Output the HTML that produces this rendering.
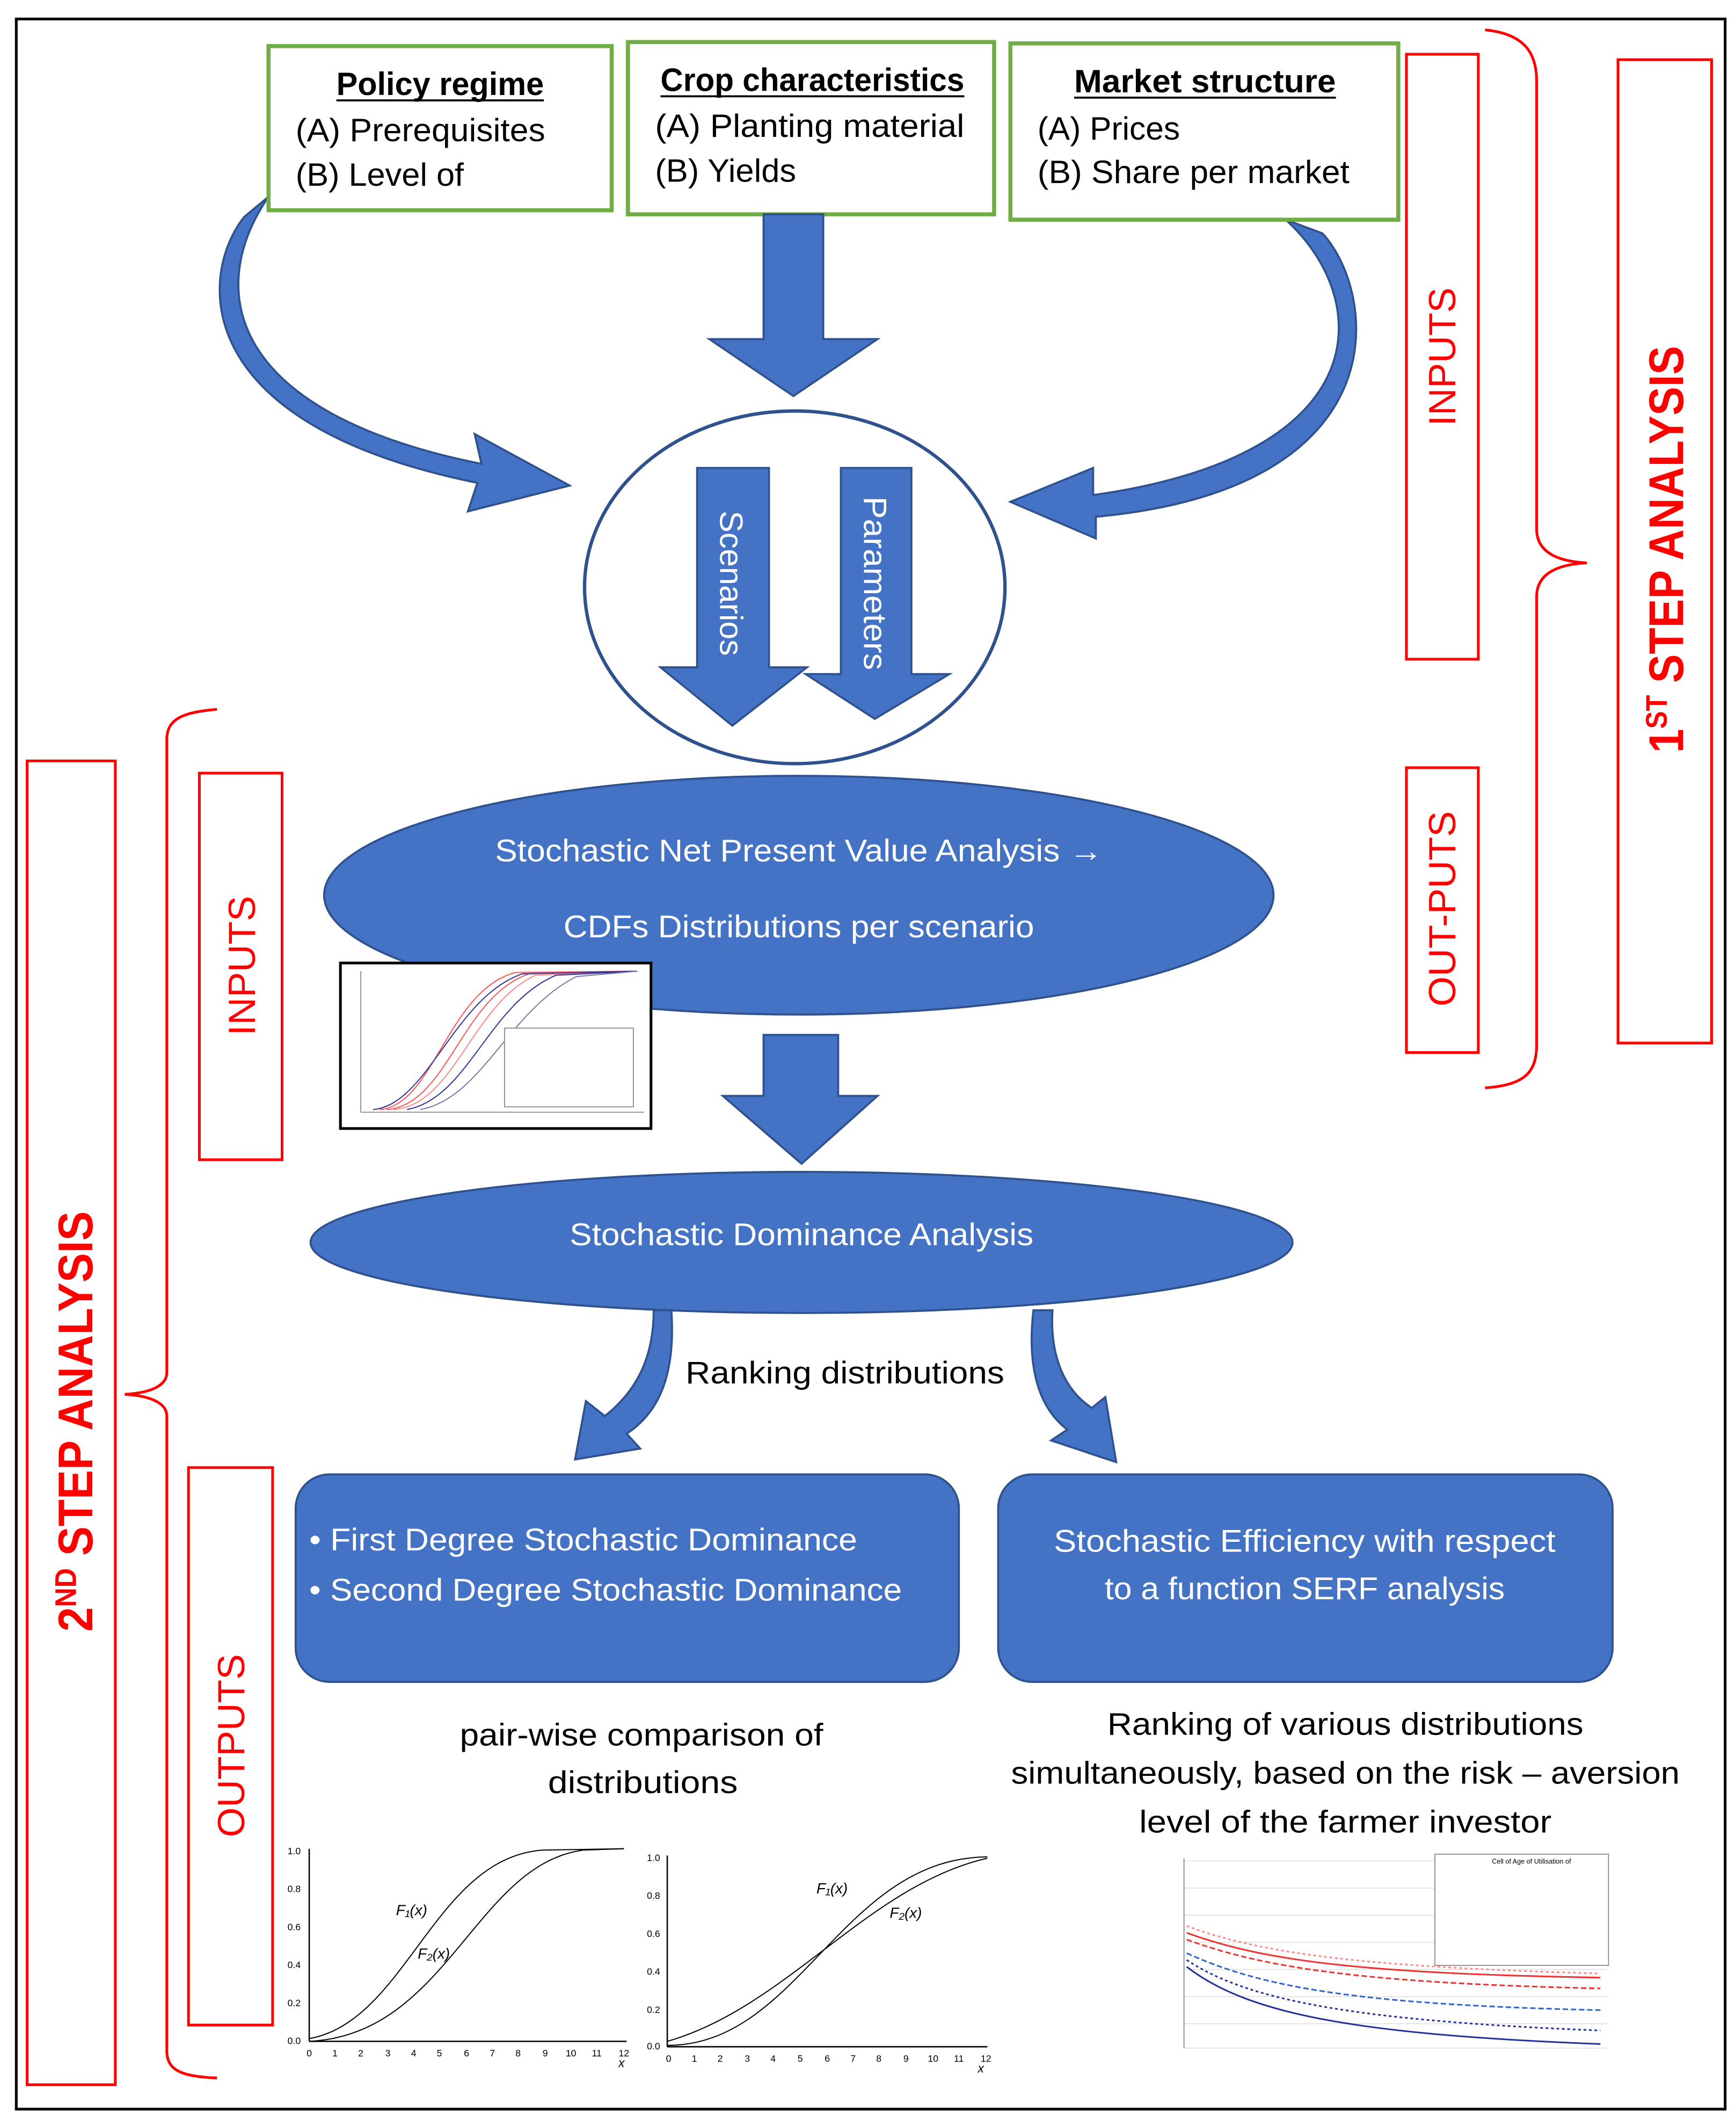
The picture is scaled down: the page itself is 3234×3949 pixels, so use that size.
<!DOCTYPE html>
<html><head><meta charset="utf-8"><style>
html,body{margin:0;padding:0;background:#fff;}
svg{display:block;}
text{font-family:"Liberation Sans",sans-serif;}
</style></head><body>
<svg xmlns="http://www.w3.org/2000/svg" width="3234" height="3949" viewBox="0 0 1280 1563">
<rect x="0" y="0" width="1280" height="1563" fill="#fff"/>
<rect x="12" y="14" width="1260" height="1541" fill="none" stroke="#000" stroke-width="2"/>

<path d="M198,145 C150,215 170,305 355,342 L350,320 L420,358 L345,377 L352,356 C135,312 148,200 180,160 Z" fill="#4472c4" stroke="#2f528f" stroke-width="1.5"/>
<path d="M948,162 C1012,220 1018,335 806,365 L806,345 L745,370 L808,397 L808,381 C1035,360 1015,215 975,172 Z" fill="#4472c4" stroke="#2f528f" stroke-width="1.5"/>

<g fill="#fff" stroke="#70ad47" stroke-width="3">
<rect x="198" y="34" width="253" height="121"/>
<rect x="463" y="31" width="270" height="127"/>
<rect x="745" y="32" width="286" height="130"/>
</g>
<g font-size="24" fill="#000">
<text x="248" y="70" font-weight="bold" textLength="153" lengthAdjust="spacingAndGlyphs">Policy regime</text>
<line x1="248" y1="74" x2="401" y2="74" stroke="#000" stroke-width="1.5"/>
<text x="218" y="104" textLength="184" lengthAdjust="spacingAndGlyphs">(A) Prerequisites</text>
<text x="218" y="137" textLength="124" lengthAdjust="spacingAndGlyphs">(B) Level of</text>
<text x="487" y="67" font-weight="bold" textLength="224" lengthAdjust="spacingAndGlyphs">Crop characteristics</text>
<line x1="487" y1="71" x2="711" y2="71" stroke="#000" stroke-width="1.5"/>
<text x="483" y="101" textLength="228" lengthAdjust="spacingAndGlyphs">(A) Planting material</text>
<text x="483" y="134" textLength="104" lengthAdjust="spacingAndGlyphs">(B) Yields</text>
<text x="792" y="68" font-weight="bold" textLength="193" lengthAdjust="spacingAndGlyphs">Market structure</text>
<line x1="792" y1="72" x2="985" y2="72" stroke="#000" stroke-width="1.5"/>
<text x="765" y="103" textLength="105" lengthAdjust="spacingAndGlyphs">(A) Prices</text>
<text x="765" y="135" textLength="230" lengthAdjust="spacingAndGlyphs">(B) Share per market</text>
</g>

<polygon points="563,158 607,158 607,250 647,250 585,292 523,250 563,250" fill="#4472c4" stroke="#2f528f" stroke-width="1.5"/>

<ellipse cx="586" cy="433" rx="155" ry="130" fill="#fff" stroke="#2f528f" stroke-width="2.5"/>
<polygon points="514,345 567,345 567,492 595,492 540,535 487,492 514,492" fill="#4472c4" stroke="#2f528f" stroke-width="1.5"/>
<polygon points="620,345 672,345 672,497 700,497 645,530 594,497 620,497" fill="#4472c4" stroke="#2f528f" stroke-width="1.5"/>
<text transform="translate(531,430) rotate(90)" text-anchor="middle" font-size="24" fill="#fff" textLength="107" lengthAdjust="spacingAndGlyphs">Scenarios</text>
<text transform="translate(637,430) rotate(90)" text-anchor="middle" font-size="24" fill="#fff" textLength="128" lengthAdjust="spacingAndGlyphs">Parameters</text>

<g fill="none" stroke="#ff0000" stroke-width="2">
<rect x="1037" y="40" width="53" height="446"/>
<rect x="1037" y="566" width="53" height="210"/>
<rect x="1193" y="44" width="69" height="725"/>
<path d="M1095,22 C1125,25 1133,40 1133,60 L1133,390 C1133,408 1150,414 1170,415 C1150,416 1133,422 1133,440 L1133,770 C1133,790 1125,800 1095,802"/>
<rect x="20" y="561" width="65" height="976"/>
<rect x="147" y="570" width="61" height="285"/>
<rect x="139" y="1082" width="62" height="411"/>
<path d="M160,523 C135,525 123,530 123,545 L123,1012 C123,1022 110,1027 92,1028 C110,1029 123,1034 123,1044 L123,1512 C123,1527 135,1531 160,1532"/>
</g>
<g fill="#ff0000" font-size="28" text-anchor="middle">
<text transform="translate(1073,263) rotate(-90)" textLength="102" lengthAdjust="spacingAndGlyphs">INPUTS</text>
<text transform="translate(1073,670) rotate(-90)" textLength="144" lengthAdjust="spacingAndGlyphs">OUT-PUTS</text>
<text transform="translate(1241,405) rotate(-90)" font-weight="bold" font-size="36" textLength="300" lengthAdjust="spacingAndGlyphs">1<tspan font-size="22" dy="-12">ST</tspan><tspan dy="12"> STEP ANALYSIS</tspan></text>
<text transform="translate(188,712) rotate(-90)" textLength="103" lengthAdjust="spacingAndGlyphs">INPUTS</text>
<text transform="translate(180,1287) rotate(-90)" textLength="135" lengthAdjust="spacingAndGlyphs">OUTPUTS</text>
<text transform="translate(68,1048) rotate(-90)" font-weight="bold" font-size="36" textLength="310" lengthAdjust="spacingAndGlyphs">2<tspan font-size="22" dy="-12">ND</tspan><tspan dy="12"> STEP ANALYSIS</tspan></text>
</g>

<ellipse cx="589" cy="660" rx="350" ry="88" fill="#4472c4" stroke="#2f528f" stroke-width="1.5"/>
<text x="589" y="635" text-anchor="middle" font-size="23" fill="#fff" textLength="448" lengthAdjust="spacingAndGlyphs">Stochastic Net Present Value Analysis →</text>
<text x="589" y="691" text-anchor="middle" font-size="23" fill="#fff" textLength="347" lengthAdjust="spacingAndGlyphs">CDFs Distributions per scenario</text>

<rect x="251" y="710" width="229" height="122" fill="#fff" stroke="#000" stroke-width="2"/>
<g fill="none" stroke-width="0.8">
<line x1="266" y1="716" x2="266" y2="820" stroke="#999"/>
<line x1="266" y1="820" x2="475" y2="820" stroke="#999"/>
<path d="M280,818 C320,815 330,730 380,717 L470,716" stroke="#f55"/>
<path d="M285,818 C330,815 340,735 390,718 L470,716" stroke="#f55"/>
<path d="M290,818 C335,815 348,740 395,719 L470,716" stroke="#f88"/>
<path d="M275,818 C315,815 335,735 385,718 L470,716" stroke="#339"/>
<path d="M300,818 C345,810 360,740 410,719 L470,716" stroke="#339"/>
<path d="M310,818 C355,810 375,745 425,720 L470,716" stroke="#77a"/>
</g>
<rect x="372" y="758" width="95" height="58" fill="#fff" stroke="#888" stroke-width="0.7"/>

<polygon points="563,763 618,763 618,808 647,808 591,858 533,808 563,808" fill="#4472c4" stroke="#2f528f" stroke-width="1.5"/>

<ellipse cx="591" cy="916" rx="362" ry="52" fill="#4472c4" stroke="#2f528f" stroke-width="1.5"/>
<text x="591" y="918" text-anchor="middle" font-size="23" fill="#fff" textLength="342" lengthAdjust="spacingAndGlyphs">Stochastic Dominance Analysis</text>

<path d="M482,966 L495,966 C498,1010 488,1040 462,1057 L472,1068 L424,1076 L432,1033 L446,1044 C470,1025 482,1000 482,966 Z" fill="#4472c4" stroke="#2f528f" stroke-width="1.5"/>
<path d="M762,966 L776,966 C774,1000 785,1025 805,1038 L815,1030 L823,1078 L775,1062 L787,1054 C762,1035 758,1000 762,966 Z" fill="#4472c4" stroke="#2f528f" stroke-width="1.5"/>
<text x="623" y="1020" text-anchor="middle" font-size="23" fill="#000" textLength="235" lengthAdjust="spacingAndGlyphs">Ranking distributions</text>

<rect x="218" y="1087" width="489" height="153" rx="25" fill="#4472c4" stroke="#2f528f" stroke-width="1.5"/>
<rect x="736" y="1087" width="453" height="153" rx="25" fill="#4472c4" stroke="#2f528f" stroke-width="1.5"/>
<g font-size="23" fill="#fff">
<text x="228" y="1143" textLength="404" lengthAdjust="spacingAndGlyphs">• First Degree Stochastic Dominance</text>
<text x="228" y="1180" textLength="437" lengthAdjust="spacingAndGlyphs">• Second Degree Stochastic Dominance</text>
<text x="962" y="1144" text-anchor="middle" textLength="370" lengthAdjust="spacingAndGlyphs">Stochastic Efficiency with respect</text>
<text x="962" y="1179" text-anchor="middle" textLength="295" lengthAdjust="spacingAndGlyphs">to a function SERF analysis</text>
</g>
<g font-size="23" fill="#000" text-anchor="middle">
<text x="473" y="1287" textLength="268" lengthAdjust="spacingAndGlyphs">pair-wise comparison of</text>
<text x="474" y="1322" textLength="140" lengthAdjust="spacingAndGlyphs">distributions</text>
<text x="992" y="1279" textLength="351" lengthAdjust="spacingAndGlyphs">Ranking of various distributions</text>
<text x="992" y="1315" textLength="493" lengthAdjust="spacingAndGlyphs">simultaneously, based on the risk – aversion</text>
<text x="992" y="1351" textLength="304" lengthAdjust="spacingAndGlyphs">level of the farmer investor</text>
</g>

<g font-size="7" fill="#000">
<line x1="228" y1="1363" x2="228" y2="1505" stroke="#000"/>
<line x1="228" y1="1505" x2="462" y2="1505" stroke="#000"/>
<text x="212" y="1367">1.0</text><text x="212" y="1395">0.8</text><text x="212" y="1423">0.6</text><text x="212" y="1451">0.4</text><text x="212" y="1479">0.2</text><text x="212" y="1507">0.0</text>
<g text-anchor="middle">
<text x="228" y="1516">0</text><text x="247" y="1516">1</text><text x="266" y="1516">2</text><text x="286" y="1516">3</text><text x="305" y="1516">4</text><text x="324" y="1516">5</text><text x="344" y="1516">6</text><text x="363" y="1516">7</text><text x="382" y="1516">8</text><text x="402" y="1516">9</text><text x="421" y="1516">10</text><text x="440" y="1516">11</text><text x="460" y="1516">12</text>
<text x="493" y="1520">0</text><text x="512" y="1520">1</text><text x="531" y="1520">2</text><text x="551" y="1520">3</text><text x="570" y="1520">4</text><text x="590" y="1520">5</text><text x="610" y="1520">6</text><text x="629" y="1520">7</text><text x="648" y="1520">8</text><text x="668" y="1520">9</text><text x="688" y="1520">10</text><text x="707" y="1520">11</text><text x="727" y="1520">12</text>
</g>
<text x="456" y="1524" font-size="9" font-style="italic">x</text>
<path d="M228,1503 C300,1490 320,1370 400,1364 L460,1363" fill="none" stroke="#000" stroke-width="0.8"/>
<path d="M228,1505 C330,1500 350,1375 430,1364 L460,1363" fill="none" stroke="#000" stroke-width="0.8"/>
<text x="292" y="1412" font-size="11" font-style="italic">F₁(x)</text>
<text x="308" y="1444" font-size="11" font-style="italic">F₂(x)</text>
<line x1="492" y1="1368" x2="492" y2="1509" stroke="#000"/>
<line x1="492" y1="1509" x2="728" y2="1509" stroke="#000"/>
<text x="477" y="1372">1.0</text><text x="477" y="1400">0.8</text><text x="477" y="1428">0.6</text><text x="477" y="1456">0.4</text><text x="477" y="1484">0.2</text><text x="477" y="1511">0.0</text>
<text x="721" y="1528" font-size="9" font-style="italic">x</text>
<path d="M492,1505 C580,1480 640,1390 728,1370" fill="none" stroke="#000" stroke-width="0.8"/>
<path d="M492,1508 C590,1508 620,1370 728,1369" fill="none" stroke="#000" stroke-width="0.8"/>
<text x="602" y="1396" font-size="11" font-style="italic">F₁(x)</text>
<text x="656" y="1414" font-size="11" font-style="italic">F₂(x)</text>
</g>

<rect x="845" y="1365" width="343" height="178" fill="#fff"/>
<g stroke="#ddd" stroke-width="0.6">
<line x1="873" y1="1372" x2="1185" y2="1372"/><line x1="873" y1="1392" x2="1185" y2="1392"/><line x1="873" y1="1412" x2="1185" y2="1412"/><line x1="873" y1="1432" x2="1185" y2="1432"/><line x1="873" y1="1452" x2="1185" y2="1452"/><line x1="873" y1="1472" x2="1185" y2="1472"/><line x1="873" y1="1492" x2="1185" y2="1492"/><line x1="873" y1="1510" x2="1185" y2="1510"/>
</g>
<line x1="873" y1="1370" x2="873" y2="1510" stroke="#888" stroke-width="0.7"/>
<g fill="none" stroke-width="1.2">
<path d="M875,1425 C930,1445 1000,1455 1180,1458" stroke="#e33"/>
<path d="M875,1430 C930,1450 1000,1462 1180,1466" stroke="#e33" stroke-dasharray="4,2"/>
<path d="M875,1420 C930,1440 1000,1450 1180,1455" stroke="#f88" stroke-dasharray="2,2"/>
<path d="M875,1440 C930,1465 1000,1478 1180,1482" stroke="#36c" stroke-dasharray="4,2"/>
<path d="M875,1450 C920,1485 1000,1500 1180,1507" stroke="#239"/>
<path d="M875,1445 C920,1475 1000,1490 1180,1497" stroke="#239" stroke-dasharray="2,2"/>
</g>
<rect x="1058" y="1367" width="128" height="82" fill="#fff" stroke="#888" stroke-width="0.7"/>
<text x="1100" y="1374" font-size="5" fill="#000">Cell of   Age of   Utilisation of</text>
</svg>
</body></html>
